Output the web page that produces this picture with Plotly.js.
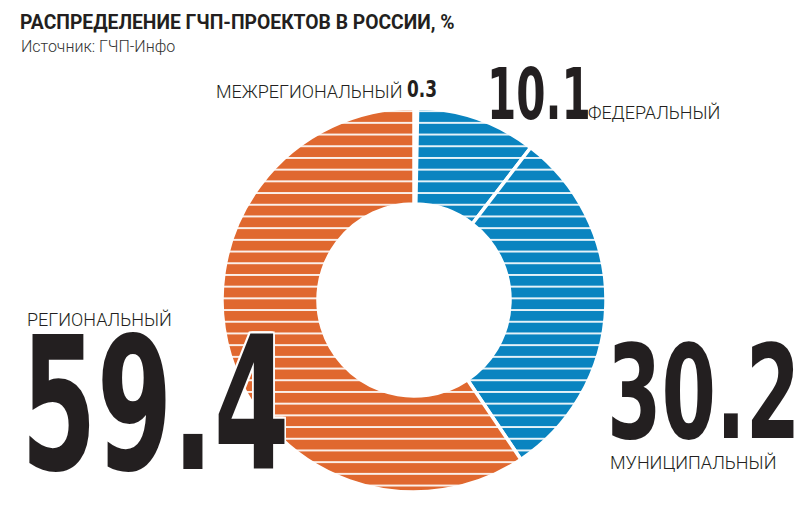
<!DOCTYPE html>
<html>
<head>
<meta charset="utf-8">
<script src="https://cdn.plot.ly/plotly-3.0.1.min.js"></script>
<style>
html,body{margin:0;padding:0;background:#fff;}
#chart{width:807px;height:516px;}
</style>
</head>
<body>
<div id="chart"></div>
<script>
// Data
const categories = ["МЕЖРЕГИОНАЛЬНЫЙ", "ФЕДЕРАЛЬНЫЙ", "МУНИЦИПАЛЬНЫЙ", "РЕГИОНАЛЬНЫЙ"];
const values = [0.3, 10.1, 30.2, 59.4];
const valueLabels = ["0.3", "10.1", "30.2", "59.4"];
const sliceColors = ["#5aa8d8", "#0a84c0", "#0a84c0", "#e0682f"];
const titleText = "РАСПРЕДЕЛЕНИЕ ГЧП-ПРОЕКТОВ В РОССИИ, %";
const sourceText = "Источник: ГЧП-Инфо";

const W = 807, H = 516;
const px = x => x / W;
const py = y => 1 - y / H;

const cx = 414, cy = 300, R = 192;

const trace = {
  type: "pie",
  labels: categories,
  values: values,
  sort: false,
  direction: "clockwise",
  rotation: 0,
  hole: 0.5,
  textinfo: "none",
  showlegend: false,
  domain: {x: [px(cx - R), px(cx + R)], y: [py(cy + R), py(cy - R)]},
  marker: {
    colors: sliceColors,
    line: {color: "#ffffff", width: 3.5},
    pattern: {shape: "-", fillmode: "replace", bgcolor: sliceColors,
              fgcolor: "#ffffff", size: 11.7, solidity: 0.15}
  }
};

const bigFont = {family: "DejaVu Sans Condensed", weight: 700, color: "#231f20"};
const lblFont = {family: "Roboto", weight: 300, color: "#231f20", size: 18};
const halo = "2px 0 0 #fff, -2px 0 0 #fff, 0 2px 0 #fff, 0 -2px 0 #fff, 2px 2px 0 #fff, -2px -2px 0 #fff, 2px -2px 0 #fff, -2px 2px 0 #fff";

function ann(text, x, y, xa, ya, font) {
  return {text: text, xref: "paper", yref: "paper", x: px(x), y: py(y),
          xanchor: xa, yanchor: ya, showarrow: false, font: font,
          borderpad: 0};
}

// horizontal condensing for the big numbers (annotation index -> scaleX)
const condense = {2: 0.82, 3: 0.65, 6: 0.65, 7: 0.67};

const annotations = [
  ann(sourceText, 20, 47, "left", "middle", {family: "Roboto", weight: 300, size: 16, color: "#333"}),
  ann(categories[0], 403, 92, "right", "middle", lblFont),
  ann(valueLabels[0], 406, 89, "left", "middle", Object.assign({}, bigFont, {size: 23})),
  ann(valueLabels[1], 486, 94, "left", "middle", Object.assign({}, bigFont, {size: 72})),
  ann(categories[1], 587, 113, "left", "middle", lblFont),
  ann(categories[3], 26, 319, "left", "middle", lblFont),
  ann(valueLabels[3], 20, 404, "left", "middle", Object.assign({}, bigFont, {size: 186, shadow: halo})),
  ann(valueLabels[2], 606, 393, "left", "middle", Object.assign({}, bigFont, {size: 130})),
  ann(categories[2], 609, 462, "left", "middle", lblFont)
];

const layout = {
  width: W, height: H,
  margin: {l: 0, r: 0, t: 0, b: 0},
  paper_bgcolor: "#fff",
  title: {text: titleText, x: px(20), xanchor: "left", y: py(22), yanchor: "middle",
          font: {family: "Roboto", weight: 700, size: 19.3, color: "#231f20"}},
  annotations: annotations
};

Plotly.newPlot("chart", [trace], layout, {displayModeBar: false, staticPlot: true}).then(function(gd){
  const groups = gd.querySelectorAll('.annotation');
  groups.forEach(function(g){
    const idx = +g.getAttribute('data-index');
    if (condense[idx]) {
      const t = g.querySelector('text.annotation-text');
      if (t) {
        t.style.transformBox = 'fill-box';
        t.style.transformOrigin = 'left center';
        t.style.transform = 'scaleX(' + condense[idx] + ')';
      }
    }
  });
});
</script>
</body>
</html>
